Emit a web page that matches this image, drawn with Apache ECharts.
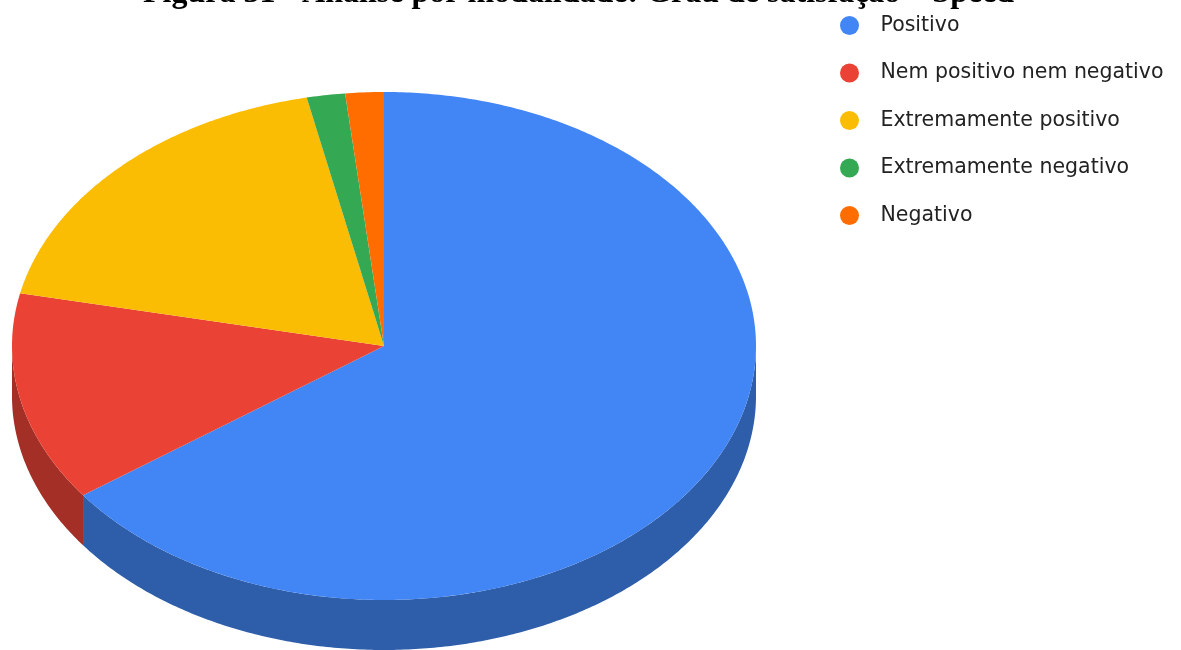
<!DOCTYPE html>
<html>
<head>
<meta charset="utf-8">
<script src="https://cdn.jsdelivr.net/npm/echarts@6/dist/echarts.min.js"></script>
<style>
  html, body { margin: 0; padding: 0; background: #fff; }
  #chart { width: 1181px; height: 650px; }
</style>
</head>
<body>
<div id="chart"></div>
<script>
// Survey answers: satisfaction level with the "Speed" modality
const categories = ['Positivo', 'Nem positivo nem negativo', 'Extremamente positivo', 'Extremamente negativo', 'Negativo'];
const counts = [39, 8, 11, 1, 1];
const topColors = ['#4285f4', '#ea4335', '#fbbc04', '#34a853', '#ff6d01'];
const sideColors = ['#2e5ea9', '#a32f27', '#b08503', '#25773b', '#b34d01'];
const titleText = 'Figura 31 - Análise por modalidade: Grau de satisfação – Speed';

const total = counts.reduce((a, b) => a + b, 0);
const starts = [];
let acc = 0;
counts.forEach(c => { starts.push(acc); acc += c; });

// Tilted pie geometry (ellipse centre, radii and wall depth in px)
const PIE = { cx: 384, cy: 346, rx: 372, ry: 254, depth: 50 };

// Angle measured clockwise from 12 o'clock
function pt(theta, dy) {
  return [PIE.cx + PIE.rx * Math.sin(theta), PIE.cy - PIE.ry * Math.cos(theta) + (dy || 0)];
}
function arc(a0, a1, dy) {
  const n = Math.max(2, Math.ceil((a1 - a0) / 0.01));
  const pts = [];
  for (let i = 0; i <= n; i++) pts.push(pt(a0 + (a1 - a0) * i / n, dy));
  return pts;
}

function renderSlice(params, api) {
  const val = api.value(0);
  const idx = api.value(1);
  const a0 = starts[idx] / total * 2 * Math.PI;
  const a1 = (starts[idx] + val) / total * 2 * Math.PI;
  const children = [];
  // outer wall, only the part facing the viewer (between 3 and 9 o'clock)
  const f0 = Math.max(a0, Math.PI / 2);
  const f1 = Math.min(a1, 3 * Math.PI / 2);
  if (f1 > f0) {
    const upper = arc(f0, f1, 0);
    const lower = arc(f0, f1, PIE.depth).reverse();
    children.push({
      type: 'polygon', z2: 1,
      shape: { points: upper.concat(lower) },
      style: { fill: sideColors[idx] }
    });
  }
  children.push({
    type: 'polygon', z2: 10,
    shape: { points: [[PIE.cx, PIE.cy]].concat(arc(a0, a1, 0)) },
    style: { fill: api.visual('color') }
  });
  return { type: 'group', children };
}

const series = categories.map((name, i) => ({
  type: 'custom',
  name: name,
  coordinateSystem: 'none',
  itemStyle: { color: topColors[i] },
  data: [[counts[i], i]],
  renderItem: renderSlice,
  animation: false
}));

const chart = echarts.init(document.getElementById('chart'), null, { renderer: 'canvas' });
chart.setOption({
  backgroundColor: '#ffffff',
  animation: false,
  title: {
    text: titleText,
    left: 138,
    top: -27,
    textStyle: { fontFamily: 'Liberation Serif', fontWeight: 'bold', fontSize: 32, color: '#000' }
  },
  legend: {
    orient: 'vertical',
    left: 835,
    top: 10,
    icon: 'circle',
    itemWidth: 52,
    itemHeight: 19,
    itemGap: 26.5,
    selectedMode: false,
    data: categories,
    textStyle: { fontFamily: 'DejaVu Sans', fontSize: 20.5, color: '#222' }
  },
  series: series
});
</script>
</body>
</html>
